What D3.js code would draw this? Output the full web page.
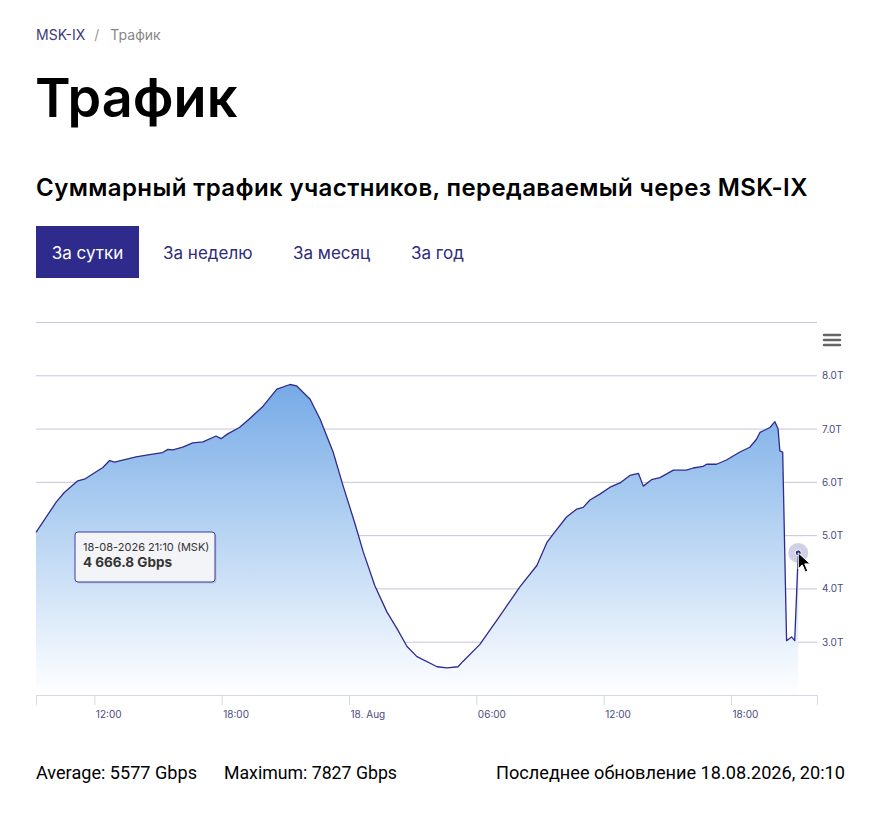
<!DOCTYPE html>
<html>
<head>
<meta charset="utf-8">
<script src="https://cdn.jsdelivr.net/npm/d3@7"></script>
<style>
  html, body { margin: 0; padding: 0; background: #fff; }
  svg { display: block; }
  text { font-family: Inter, "Noto Sans", sans-serif; }
</style>
</head>
<body>
<svg id="page" width="873" height="820"></svg>
<script>
// readings from the 24h traffic graph (Gbps)
var times = [
  "2026-08-17 09:15", "2026-08-17 10:12", "2026-08-17 10:35", "2026-08-17 11:13", "2026-08-17 11:32",
  "2026-08-17 12:05", "2026-08-17 12:24", "2026-08-17 12:43", "2026-08-17 12:57", "2026-08-17 13:20",
  "2026-08-17 13:58", "2026-08-17 14:36", "2026-08-17 15:13", "2026-08-17 15:28", "2026-08-17 15:42",
  "2026-08-17 16:10", "2026-08-17 16:38", "2026-08-17 17:07", "2026-08-17 17:44", "2026-08-17 17:58",
  "2026-08-17 18:17", "2026-08-17 18:50", "2026-08-17 19:18", "2026-08-17 19:57", "2026-08-17 20:36",
  "2026-08-17 21:13", "2026-08-17 21:32", "2026-08-17 22:10", "2026-08-17 22:38", "2026-08-17 23:15",
  "2026-08-17 23:43", "2026-08-18 00:17", "2026-08-18 00:40", "2026-08-18 01:13", "2026-08-18 01:47",
  "2026-08-18 02:16", "2026-08-18 02:44", "2026-08-18 03:12", "2026-08-18 04:09", "2026-08-18 04:37",
  "2026-08-18 05:08", "2026-08-18 05:22", "2026-08-18 06:10", "2026-08-18 07:07", "2026-08-18 08:03",
  "2026-08-18 08:51", "2026-08-18 09:20", "2026-08-18 09:37", "2026-08-18 10:15", "2026-08-18 10:44",
  "2026-08-18 11:02", "2026-08-18 11:21", "2026-08-18 11:49", "2026-08-18 12:18", "2026-08-18 12:46",
  "2026-08-18 13:14", "2026-08-18 13:38", "2026-08-18 13:52", "2026-08-18 14:15", "2026-08-18 14:39",
  "2026-08-18 15:17", "2026-08-18 15:54", "2026-08-18 16:13", "2026-08-18 16:41", "2026-08-18 16:51",
  "2026-08-18 17:19", "2026-08-18 17:47", "2026-08-18 18:25", "2026-08-18 18:53", "2026-08-18 19:12",
  "2026-08-18 19:22", "2026-08-18 19:50", "2026-08-18 20:04", "2026-08-18 20:13", "2026-08-18 20:18",
  "2026-08-18 20:26", "2026-08-18 20:37", "2026-08-18 20:51", "2026-08-18 21:00", "2026-08-18 21:10"
];
var gbps = [
  5050, 5620, 5800, 6020, 6050,
  6190, 6270, 6400, 6370, 6410,
  6470, 6510, 6550, 6610, 6600,
  6650, 6730, 6750, 6860, 6810,
  6900, 7020, 7180, 7420, 7740,
  7827, 7800, 7550, 7180, 6560,
  5930, 5210, 4690, 4050, 3560,
  3240, 2910, 2720, 2530, 2510,
  2530, 2630, 2950, 3490, 4030,
  4430, 4870, 5020, 5340, 5490,
  5520, 5660, 5770, 5900, 5980,
  6120, 6160, 5920, 6040, 6080,
  6220, 6220, 6260, 6290, 6330,
  6330, 6410, 6560, 6650, 6800,
  6930, 7020, 7130, 6990, 6580,
  6560, 3020, 3090, 3020, 4666.8
];
var yTicks = [2000, 3000, 4000, 5000, 6000, 7000, 8000, 9000];
var tabs = ["За сутки", "За неделю", "За месяц", "За год"];
var tabX = [36, 163, 293, 411];
var xStart = "2026-08-17 09:15", xEnd = "2026-08-18 22:03";

var svg = d3.select("#page");
var parse = d3.timeParse("%Y-%m-%d %H:%M");
var data = times.map(function (t, i) { return { t: parse(t), v: gbps[i] }; });

var navy = "#2e2b8c";

// header
var crumb = svg.append("text").attr("x", 36).attr("y", 40).style("font-size", "14px");
crumb.append("tspan").attr("fill", "#3b3a78").text("MSK-IX");
crumb.append("tspan").attr("fill", "#999").attr("dx", 9).text("/");
crumb.append("tspan").attr("fill", "#888").attr("dx", 11).text("Трафик");

svg.append("text").attr("x", 35).attr("y", 117)
    .style("font-size", "54px").style("font-weight", 600)
    .attr("fill", "#000").text("Трафик");

svg.append("text").attr("x", 36).attr("y", 196)
    .style("font-size", "24px").style("font-weight", 600).style("letter-spacing", "0.4px")
    .attr("fill", "#000").text("Суммарный трафик участников, передаваемый через MSK-IX");

svg.append("rect").attr("x", 36).attr("y", 226).attr("width", 103).attr("height", 52).attr("fill", navy);
svg.selectAll(".tab").data(tabs).enter().append("text")
    .attr("class", "tab")
    .attr("x", function (d, i) { return i === 0 ? 87.5 : tabX[i]; })
    .attr("y", 259)
    .attr("text-anchor", function (d, i) { return i === 0 ? "middle" : "start"; })
    .style("font-size", "17px")
    .attr("fill", function (d, i) { return i === 0 ? "#fff" : "#2e2b7a"; })
    .text(function (d) { return d; });

// chart
var margin = { top: 322, left: 36 },
    width = 781,
    height = 373;
var g = svg.append("g").attr("transform", "translate(" + margin.left + "," + margin.top + ")");

var x = d3.scaleTime().domain([parse(xStart), parse(xEnd)]).range([0, width]);
var y = d3.scaleLinear().domain([2000, 9000]).range([height, 0]);

var defs = svg.append("defs");
var grad = defs.append("linearGradient").attr("id", "fillGrad")
    .attr("gradientUnits", "userSpaceOnUse")
    .attr("x1", 0).attr("x2", 0).attr("y1", y(7900)).attr("y2", y(2000));
grad.append("stop").attr("offset", "0%").attr("stop-color", "#74a9e6");
grad.append("stop").attr("offset", "45%").attr("stop-color", "#b3d1f2");
grad.append("stop").attr("offset", "100%").attr("stop-color", "#ffffff");

// grid
g.selectAll(".grid").data(yTicks.slice(1)).enter().append("line")
    .attr("x1", 0).attr("x2", width)
    .attr("y1", function (d) { return y(d) + 0.5; })
    .attr("y2", function (d) { return y(d) + 0.5; })
    .attr("stroke", "#c6c5da").attr("stroke-width", 1);

var area = d3.area().x(function (d) { return x(d.t); }).y0(height).y1(function (d) { return y(d.v); });
var line = d3.line().x(function (d) { return x(d.t); }).y(function (d) { return y(d.v); });

g.append("path").datum(data).attr("d", area).attr("fill", "url(#fillGrad)");
g.append("path").datum(data).attr("d", line)
    .attr("fill", "none").attr("stroke", navy).attr("stroke-width", 1.3).attr("stroke-linejoin", "round");

// x axis
var xAxis = g.append("g").attr("transform", "translate(0," + height + ")")
    .call(d3.axisBottom(x).ticks(d3.timeHour.every(6)).tickSize(10)
        .tickFormat(function (d) { return d.getHours() === 0 ? d3.timeFormat("%d. %b")(d) : d3.timeFormat("%H:%M")(d); }));
xAxis.select(".domain").attr("stroke", "#d6d6e4");
xAxis.selectAll(".tick line").attr("stroke", "#d6d6e4");
xAxis.selectAll(".tick text").attr("text-anchor", "start").attr("x", 1).attr("y", 16)
    .attr("fill", "#4a4a80").style("font-size", "10px").style("font-family", "Inter, sans-serif");

// y labels
g.selectAll(".ylab").data(yTicks.slice(1, -1)).enter().append("text")
    .attr("x", width + 5).attr("y", function (d) { return y(d) + 4; })
    .attr("fill", "#4a4a80").style("font-size", "10px")
    .text(function (d) { return (d / 1000).toFixed(1) + "T"; });

// menu icon
[0, 5, 10].forEach(function (o) {
    svg.append("line").attr("x1", 824).attr("x2", 840).attr("y1", 335 + o).attr("y2", 335 + o)
        .attr("stroke", "#666").attr("stroke-width", 2.5).attr("stroke-linecap", "round");
});

// hovered point
var last = data[data.length - 1];
g.append("circle").attr("cx", x(last.t)).attr("cy", y(last.v)).attr("r", 10)
    .attr("fill", "#2e2b8c").attr("fill-opacity", 0.22);
g.append("circle").attr("cx", x(last.t)).attr("cy", y(last.v)).attr("r", 3)
    .attr("fill", navy).attr("stroke", "#fff").attr("stroke-width", 1);
// cursor
var cx = x(last.t) + margin.left, cy = y(last.v) + margin.top;
svg.append("path")
    .attr("d", "M" + cx + "," + cy + " l0,16 l4,-4 l3,7 l2.5,-1 l-3,-7 l5.5,0 z")
    .attr("fill", "#000").attr("stroke", "#fff").attr("stroke-width", 1);

// tooltip
var tip = svg.append("g").attr("transform", "translate(75,532)");
tip.append("rect").attr("x", 1.5).attr("y", 1.5).attr("width", 140).attr("height", 50).attr("rx", 3)
    .attr("fill", "#000").attr("fill-opacity", 0.12);
tip.append("rect").attr("width", 140).attr("height", 50).attr("rx", 3)
    .attr("fill", "#f7f7f9").attr("fill-opacity", 0.95).attr("stroke", "#3d3aa0").attr("stroke-width", 1);
tip.append("text").attr("x", 8).attr("y", 19).style("font-size", "11px").attr("fill", "#333")
    .text(d3.timeFormat("%d-%m-%Y %H:%M")(last.t) + " (MSK)");
tip.append("text").attr("x", 8).attr("y", 35).style("font-size", "13.5px").style("font-weight", 700).attr("fill", "#333")
    .text(d3.format(",.1f")(last.v).replace(",", " ") + " Gbps");

// footer
var avg = 5577, mx = 7827;
function foot(xp, anchor, len, txt) {
    svg.append("text").attr("x", xp).attr("y", 779).attr("text-anchor", anchor)
        .style("font-size", "18px").style("font-family", "Roboto, sans-serif")
        .attr("textLength", len).attr("lengthAdjust", "spacingAndGlyphs")
        .attr("fill", "#000").text(txt);
}
foot(36, "start", 161, "Average: " + avg + " Gbps");
foot(224, "start", 173, "Maximum: " + mx + " Gbps");
foot(845, "end", 349, "Последнее обновление 18.08.2026, 20:10");
</script>
</body>
</html>
